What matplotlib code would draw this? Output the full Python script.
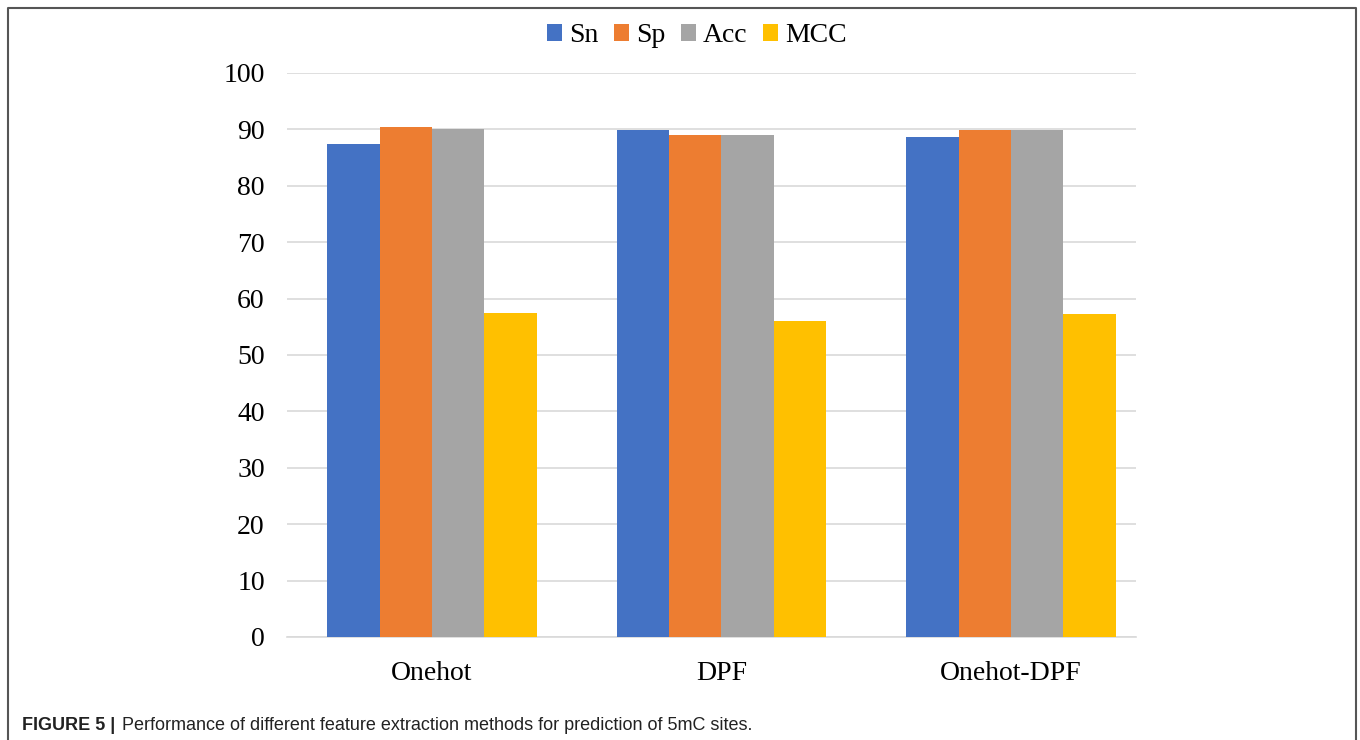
import numpy as np
import matplotlib.pyplot as plt
from matplotlib.lines import Line2D

methods = ["Onehot", "DPF", "Onehot-DPF"]
metrics = ["Sn", "Sp", "Acc", "MCC"]
sn = [87.4, 89.9, 88.7]
sp = [90.4, 89.0, 89.9]
acc = [90.1, 89.0, 89.85]
mcc = [57.4, 56.0, 57.3]
colors = ["#4472C4", "#ED7D31", "#A5A5A5", "#FFC000"]

fig = plt.figure(figsize=(13.6, 7.4), dpi=100)
ax = fig.add_axes([287 / 1360, 1 - 637 / 740, (1136 - 287) / 1360, (637 - 73) / 740])

x = np.arange(len(methods))
w = 0.181
for i, (vals, name) in enumerate(zip([sn, sp, acc, mcc], metrics)):
    ax.bar(x + (i - 1.5) * w, vals, w, color=colors[i], label=name, zorder=3)

ax.set_ylim(0, 100)
ax.set_xlim(-0.501, 2.432)
ax.set_yticks(range(0, 101, 10))
ax.set_xticks(x)
ax.set_xticklabels(methods)
ax.yaxis.grid(True, color="#D9D9D9", lw=1.2, zorder=0)
for s in ["top", "right", "left"]:
    ax.spines[s].set_visible(False)
ax.spines["bottom"].set_color("#D9D9D9")
ax.spines["bottom"].set_linewidth(1.2)
ax.tick_params(length=0, labelsize=20)
ax.tick_params(axis="y", pad=16)
ax.tick_params(axis="x", pad=17)
for lab in ax.get_xticklabels() + ax.get_yticklabels():
    lab.set_family("Liberation Serif")

leg = fig.legend(loc="center", bbox_to_anchor=(697 / 1360, 1 - 36 / 740), ncol=4,
                 frameon=False, prop={"family": "Liberation Serif", "size": 20},
                 handlelength=0.55, handleheight=0.55, handletextpad=0.25, columnspacing=0.55)

# border around the chart panel
fig.add_artist(Line2D([8 / 1360, 8 / 1360, 1356 / 1360, 1356 / 1360],
                      [0, 1 - 8 / 740, 1 - 8 / 740, 0], color="#555555", lw=1.5))

fig.text(22 / 1360, 1 - 725 / 740, "FIGURE 5 |", family="Liberation Sans", weight="bold",
         size=13, color="#222222", va="center")
fig.text(122 / 1360, 1 - 725 / 740,
         "Performance of different feature extraction methods for prediction of 5mC sites.",
         family="Liberation Sans", size=13, color="#222222", va="center")

fig.savefig("out.png", dpi=100)
